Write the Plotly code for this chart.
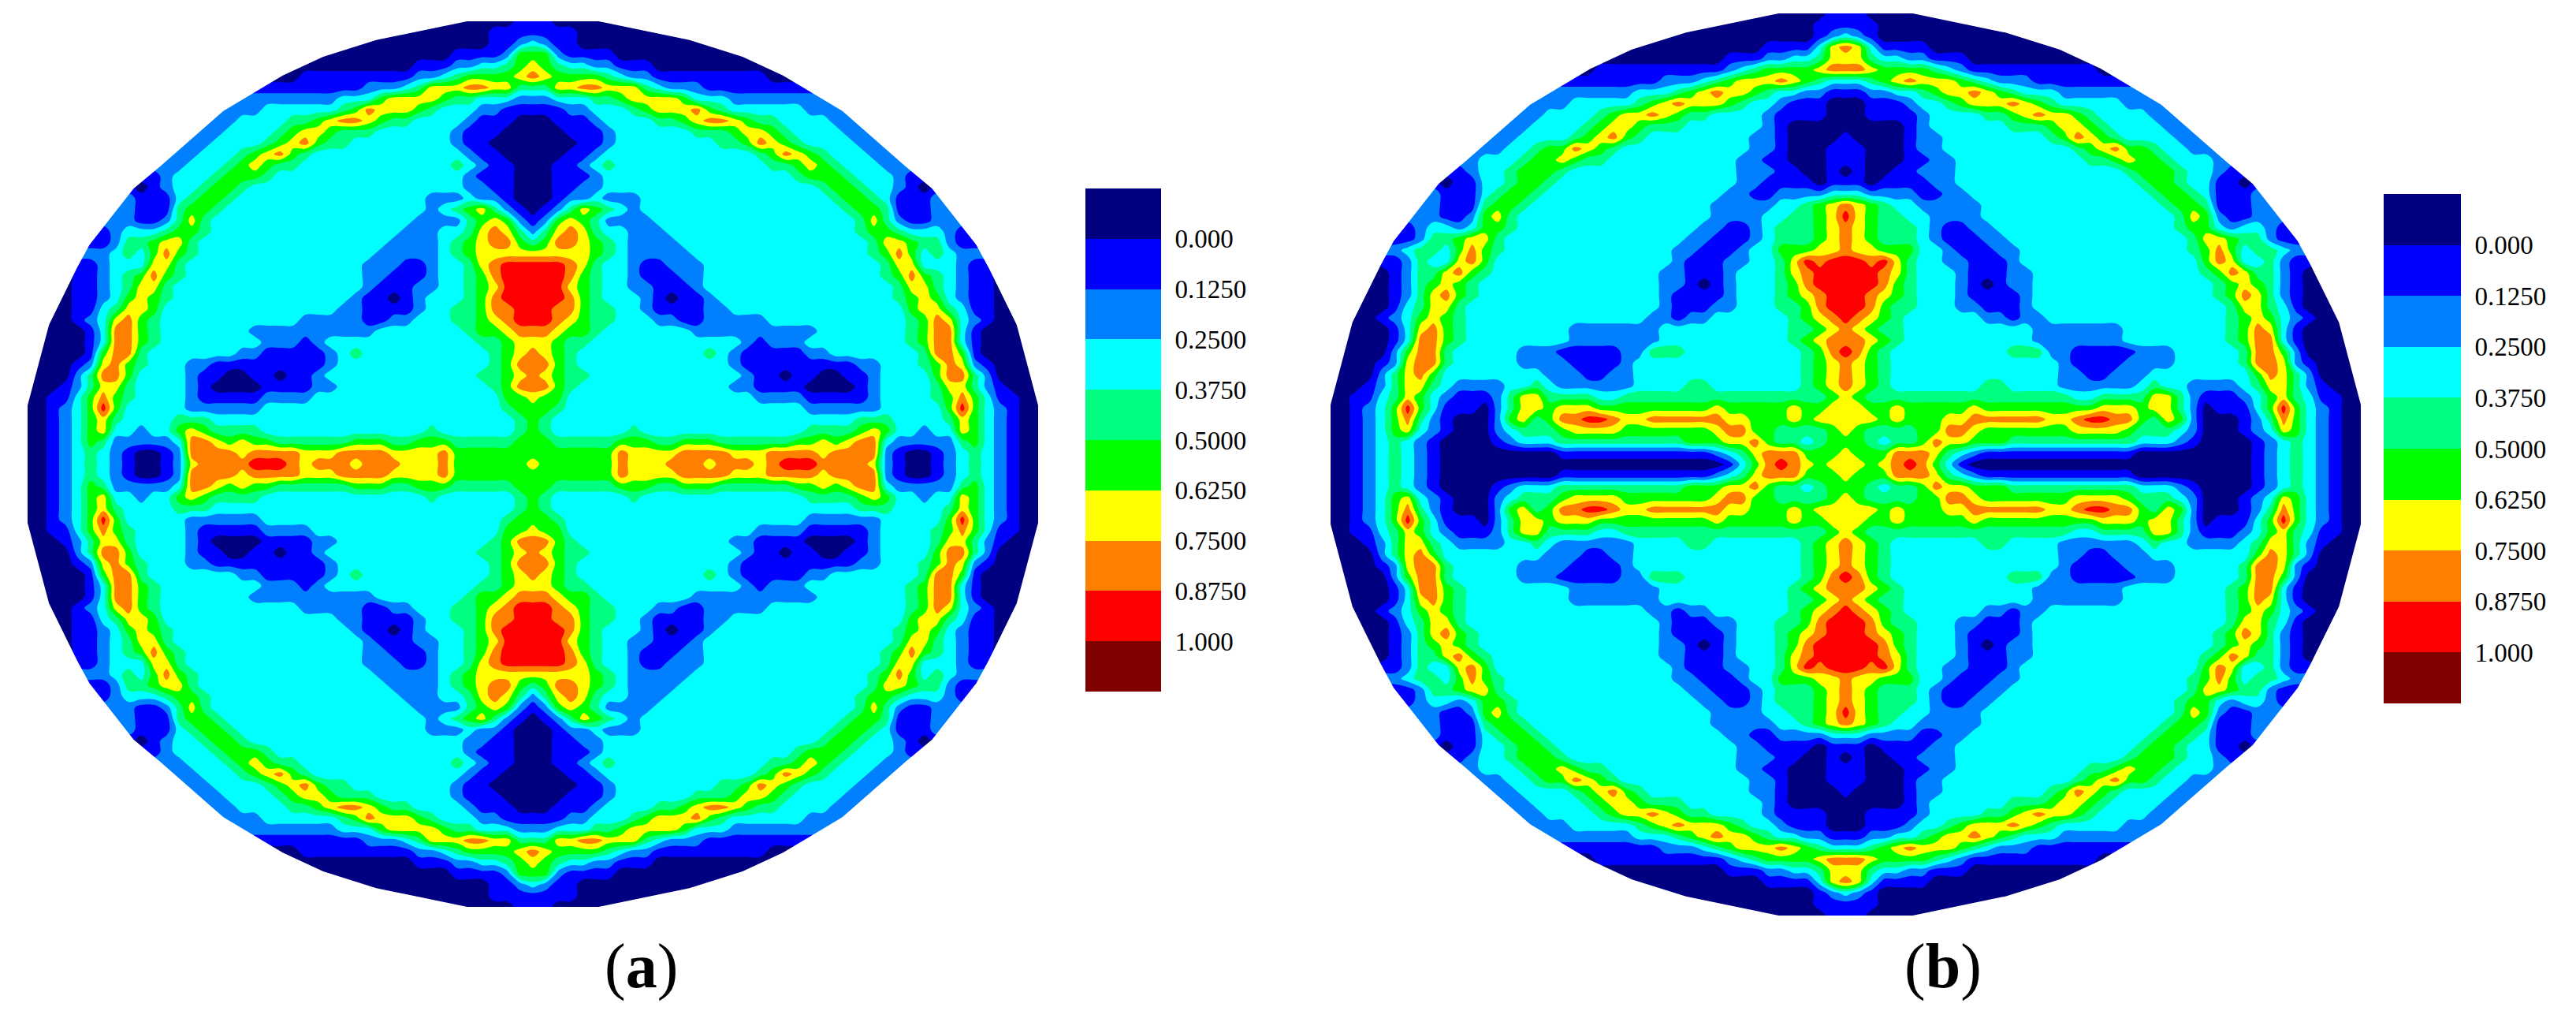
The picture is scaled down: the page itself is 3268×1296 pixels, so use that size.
import numpy as np
import plotly.graph_objects as go

# band index per cell, upper-left quadrant (0 = navy ... 9 = maroon)
# groups of ten are only there to keep the rows countable
QUADRANT_A = [
    "0000000000 0000000000 0000000000 0000000001 1",
    "0000000000 0000000000 0000000000 0000000111 1",
    "0000000000 0000000000 0000000000 0000000112 3",
    "0000000000 0000000000 0000000000 0000111125 5",
    "0000000000 0000000000 0000000000 0111223345 6",
    "0000000000 0000000000 0011111111 1223455556 7",
    "1111111111 1111111111 1111111222 3466677664 4",
    "2222222222 2222222222 2222233356 6665443332 2",
    "2222222222 2222222223 3333345766 6543332211 1",
    "2222222222 2222222333 3445677654 4333321110 0",
    "2222222222 2222223333 4566544433 3333211100 0",
    "2222222222 2222233334 5675443333 3333211000 0",
    "2222222222 2222333456 7543333333 3333321100 0",
    "2222222222 2223334565 4433333333 3333432110 0",
    "1111111111 1233345554 3333333333 3333321110 0",
    "1111111110 1233455433 3333333333 3333322110 0",
    "2222222221 1134554333 3333333333 3322232210 0",
    "2222222221 1145543333 3333333333 3323456421 0",
    "2222222221 1246433333 3333333333 3222245652 1",
    "2222221233 3455433333 3333333333 2223346764 2",
    "1111111244 5664333333 3333333332 2223456775 4",
    "2222222343 5754333333 3333333322 2223456666 6",
    "1111112333 6643333333 3333333222 1123346788 8",
    "0000112345 7543333333 3333333221 1123345788 8",
    "0000112346 6433333333 3333333211 1223345688 8",
    "0000112356 5433333333 3333332110 1233345788 8",
    "0000113466 5333333333 3333322111 1233445778 8",
    "0000123675 4333333333 3322222112 2333445678 8",
    "0000013775 4333333322 2222222233 3333345567 7",
    "0000013775 4333333332 2212333333 3333334456 6",
    "0000015774 3333333221 1111234333 3333333456 7",
    "0000126754 3332211111 1111233333 3333333457 7",
    "0000247753 3332110011 0112333333 3333334456 7",
    "0001246643 3332100001 1112233333 3333333457 7",
    "0011357543 3332111112 2223333333 3333333355 6",
    "0012358533 3332222223 3333333333 3333333345 5",
    "0012356433 3344433333 3333333333 3333333334 5",
    "0012356332 3356544443 3333333333 3343333334 5",
    "0012354222 2237765655 4444445554 4555444445 5",
    "0012343210 0127777677 7766677776 6667555555 5",
    "0012343210 0126777788 8767776777 6667555555 6",
]

QUADRANT_B = [
    "0000000000 0000000000 0000000000 0000000001 1",
    "0000000000 0000000000 0000000000 0000000011 1",
    "0000000000 0000000000 0000000000 0000000012 3",
    "0000000000 0000000000 0000000000 0000111136 7",
    "0000000000 0000000000 0000000000 0111223346 6",
    "0000000000 0000000000 0111111111 1234555567 7",
    "1111111111 1111111111 1111112223 4566676543 3",
    "2222222222 2222222222 2222333456 7665433221 1",
    "2222222222 2222222223 3333456766 6543321110 0",
    "2222222222 2222222333 3456676544 3333211110 0",
    "2222222222 2222223333 4566544433 3333210000 0",
    "2222222222 2222233334 5675433333 3332210000 1",
    "2222222222 2222334557 6543333333 3332210001 1",
    "2222222222 2233345565 4433333333 3322110001 1",
    "1111111111 1233455543 3333333333 3322211001 0",
    "1111111110 1133455433 3333333333 3322111101 1",
    "2222222221 1134554333 3333333333 3221122223 3",
    "2222222221 1145543333 3333333333 2222233456 7",
    "2222222221 1256433333 3333333333 2222334456 8",
    "2222221233 2355433333 3333333332 2112344456 7",
    "1111111244 5664333333 3333333322 1112344456 7",
    "2222223443 5754333333 3333333221 1123355566 7",
    "1111112433 6753333333 3333333211 1223346878 8",
    "0000012446 7543333333 3333332211 1233346788 8",
    "0000012456 5433333333 3333332210 1233345788 8",
    "0000012467 5433333333 3333332111 1233345678 8",
    "0000013466 4333333333 3333332111 2233344578 8",
    "0000123565 4333333333 3333322122 3333334567 8",
    "0000013675 4333333332 2222223333 3333334456 7",
    "0000013775 4333333332 2222223333 3333334567 7",
    "0000025774 3333322211 1112244433 3333333457 8",
    "0000126774 3333322221 1112333333 3333333456 7",
    "0000246753 3333333222 1122333333 3333333456 7",
    "0001246643 2222334322 2222333344 3333333456 7",
    "0011346532 1112466444 4334444444 4444444445 6",
    "0012358531 1102466566 6555555555 6555556556 6",
    "0012357421 0002564577 8876677777 7665556566 6",
    "0012356321 0002344456 6665555555 6775544445 6",
    "0012343210 0001233344 4444444455 5667544345 5",
    "0012343210 0000000011 1111111111 2346777555 6",
    "0012343210 0000000000 0000000000 0135787656 6",
]

# upper-left part of the disc outline, in grid cells from the centre
OUTLINE_X = [-5.2, -12.4, -16.6, -19.8, -24.5, -29.5, -31.6, -35.1, -36.1, -38.3, -40]
OUTLINE_Y = [-40, -38.3, -36.8, -35.1, -31.9, -26.9, -24.9, -19.8, -17.7, -12.6, -5.3]

BAND_COLORS = [
    "#000080", "#0000ff", "#0080ff", "#00ffff", "#00ff80",
    "#00ff00", "#ffff00", "#ff8000", "#ff0000", "#800000",
]
LEGEND_LABELS = ["0.000", "0.1250", "0.2500", "0.3750", "0.5000", "0.6250", "0.7500", "0.8750", "1.000"]

# the page keeps an 8px body margin, so the figure is that much smaller and everything moves up/left
PAGE_MARGIN = 8
W, H = 3268 - PAGE_MARGIN, 1296 - PAGE_MARGIN
SERIF = "Liberation Serif"


def full_grid(rows):
    quad = np.array([[int(c) for c in r.replace(" ", "")] for r in rows], dtype=float)
    top = np.hstack([quad, quad[:, -2::-1]])
    return np.vstack([top, top[-2::-1]])


def outline_path():
    pts = list(zip(OUTLINE_X, OUTLINE_Y))
    pts += [(x, -y) for x, y in reversed(pts)]
    pts += [(-x, y) for x, y in reversed(pts)]
    inner = "M " + " L ".join(f"{x} {y}" for x, y in pts) + " Z"
    return "M -41 -41 L 41 -41 L 41 41 L -41 41 Z " + inner


def xpos(px):
    return (px - PAGE_MARGIN) / W


def ypos(px):
    return 1 - (px - PAGE_MARGIN) / H


def xdom(left, right):
    return [xpos(left), xpos(right)]


def ydom(top, bottom):
    return [ypos(bottom), ypos(top)]


colorscale = [[k / 9, c] for k, c in enumerate(BAND_COLORS)]
grid = np.arange(-40, 41)
fig = go.Figure()

panels = [
    (QUADRANT_A, "x", "y", "x3", "y3"),
    (QUADRANT_B, "x2", "y2", "x4", "y4"),
]
for rows, xa, ya, xl, yl in panels:
    fig.add_trace(
        go.Contour(
            x=grid,
            y=grid,
            z=full_grid(rows),
            xaxis=xa,
            yaxis=ya,
            zmin=0,
            zmax=9,
            colorscale=colorscale,
            showscale=False,
            line_width=0,
            contours=dict(start=0.5, end=8.5, size=1, coloring="fill", showlines=False),
        )
    )
    fig.add_trace(
        go.Heatmap(
            z=[[k] for k in range(len(BAND_COLORS))],
            xaxis=xl,
            yaxis=yl,
            zmin=0,
            zmax=9,
            colorscale=colorscale,
            showscale=False,
        )
    )
    fig.add_shape(
        type="path",
        path=outline_path(),
        xref=xa,
        yref=ya,
        fillcolor="white",
        fillrule="evenodd",
        line_width=0,
        layer="above",
    )

hidden = dict(visible=False, range=[-40, 40])
legend_x = dict(visible=False)
legend_y = dict(
    range=[9.5, -0.5],
    side="right",
    tickmode="array",
    tickvals=[k + 0.5 for k in range(len(LEGEND_LABELS))],
    ticktext=LEGEND_LABELS,
    ticks="outside",
    ticklen=10,
    tickcolor="rgba(0,0,0,0)",
    showline=False,
    showgrid=False,
    zeroline=False,
    tickfont=dict(family=SERIF, size=33, color="black"),
)

fig.update_layout(
    width=W,
    height=H,
    margin=dict(l=0, r=0, t=0, b=0),
    paper_bgcolor="white",
    plot_bgcolor="white",
    showlegend=False,
    xaxis=dict(hidden, domain=xdom(35, 1317)),
    yaxis=dict(visible=False, range=[40, -40], domain=ydom(27, 1150)),
    xaxis2=dict(hidden, domain=xdom(1688, 2995)),
    yaxis2=dict(visible=False, range=[40, -40], domain=ydom(17, 1161)),
    xaxis3=dict(legend_x, domain=xdom(1377, 1473)),
    yaxis3=dict(legend_y, anchor="x3", domain=ydom(239, 877)),
    xaxis4=dict(legend_x, domain=xdom(3024, 3122)),
    yaxis4=dict(legend_y, anchor="x4", domain=ydom(246, 892)),
    annotations=[
        dict(text="(<b>a</b>)", x=xpos(813), y=ypos(1225)),
        dict(text="(<b>b</b>)", x=xpos(2465), y=ypos(1225)),
    ],
)
fig.update_annotations(
    xref="paper",
    yref="paper",
    showarrow=False,
    xanchor="center",
    yanchor="middle",
    font=dict(family=SERIF, size=80, color="black"),
)

fig.write_html("out.html")
